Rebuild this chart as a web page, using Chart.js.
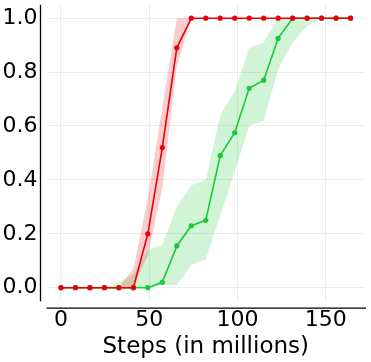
<!DOCTYPE html>
<html>
<head>
<meta charset="utf-8">
<script src="https://cdn.jsdelivr.net/npm/chart.js@4.4.1/dist/chart.umd.min.js"></script>
<style>
    html, body { margin: 0; padding: 0; background: #fff; }
    #wrap { width: 371px; height: 362px; position: relative; }
</style>
</head>
<body>
<div id="wrap"><canvas id="chart_steps"></canvas></div>
<script>
// Steps (in millions)
const steps = [0, 8.2, 16.4, 24.6, 32.8, 41, 49.2, 57.4, 65.6, 73.8, 82, 90.2, 98.4, 106.6, 114.8, 123, 131.2, 139.4, 147.6, 155.8, 164]

// red run
const redMean = [0, 0, 0, 0, 0, 0, 0.2, 0.52, 0.89, 1, 1, 1, 1, 1, 1, 1, 1, 1, 1, 1, 1]
const redUpper = [0, 0, 0, 0, 0, 0.07, 0.33, 0.67, 1, 1, 1, 1, 1, 1, 1, 1, 1, 1, 1, 1, 1]
const redLower = [0, 0, 0, 0, 0, 0, 0.12, 0.37, 0.82, 1, 1, 1, 1, 1, 1, 1, 1, 1, 1, 1, 1]

// green run
const greenMean = [0, 0, 0, 0, 0, 0, 0, 0.02, 0.155, 0.23, 0.25, 0.49, 0.575, 0.74, 0.77, 0.925, 1, 1, 1, 1, 1]
const greenUpper = [0, 0, 0, 0, 0.02, 0.05, 0.14, 0.16, 0.3, 0.38, 0.4, 0.64, 0.73, 0.89, 0.91, 1, 1, 1, 1, 1, 1]
const greenLower = [0, 0, 0, 0, 0, 0, 0, 0.01, 0.01, 0.085, 0.105, 0.27, 0.43, 0.6, 0.62, 0.81, 0.91, 0.97, 1, 1, 1]

const xTicks = [0, 50, 100, 150]
const yTicks = [0, 0.2, 0.4, 0.6, 0.8, 1.0]

const RED = 'rgb(232, 0, 11)'
const GREEN = 'rgb(26, 201, 56)'

const toPoints = (arr) => steps.map((s, i) => ({ x: s, y: arr[i] }))

const lineSet = (arr, color) => ({
    data: toPoints(arr),
    borderColor: color,
    backgroundColor: color,
    borderWidth: 1.6,
    pointRadius: 2.6,
    pointBorderWidth: 0,
    fill: false,
    tension: 0
})

const bandSet = (arr, fillTo, color) => ({
    data: toPoints(arr),
    borderWidth: 0,
    borderColor: 'rgba(0,0,0,0)',
    pointRadius: 0,
    backgroundColor: color,
    fill: fillTo,
    tension: 0
})

// offset axis lines (like seaborn despine)
const offsetAxes = {
    id: 'offsetAxes',
    afterDraw(chart) {
        const { ctx, chartArea } = chart
        ctx.save()
        ctx.strokeStyle = '#000'
        ctx.lineWidth = 1.3
        ctx.beginPath()
        ctx.moveTo(chartArea.left - 6, chartArea.top)
        ctx.lineTo(chartArea.left - 6, chartArea.bottom)
        ctx.moveTo(chartArea.left, chartArea.bottom + 7)
        ctx.lineTo(chartArea.right + 1, chartArea.bottom + 7)
        ctx.stroke()
        ctx.restore()
    }
}

new Chart(document.getElementById('chart_steps'), {
    type: 'line',
    data: {
        datasets: [
            lineSet(redMean, RED),
            lineSet(greenMean, GREEN),
            bandSet(redUpper, 3, 'rgba(232, 0, 11, 0.2)'),
            bandSet(redLower, false, 'rgba(0,0,0,0)'),
            bandSet(greenUpper, 5, 'rgba(26, 201, 56, 0.2)'),
            bandSet(greenLower, false, 'rgba(0,0,0,0)')
        ]
    },
    options: {
        responsive: true,
        maintainAspectRatio: false,
        animation: false,
        layout: {
            padding: { top: 4.7, right: 6, left: 0, bottom: 0 }
        },
        plugins: {
            legend: { display: false },
            tooltip: { enabled: false }
        },
        scales: {
            x: {
                type: 'linear',
                min: -8.2,
                max: 172.2,
                afterBuildTicks: (scale) => { scale.ticks = xTicks.map(v => ({ value: v })) },
                afterFit: (scale) => {
                    scale.height = 60.8
                    scale.paddingLeft = 0
                    scale.paddingRight = 0
                },
                grid: { color: '#ececec', lineWidth: 1, drawTicks: false },
                border: { display: false },
                ticks: {
                    padding: 6,
                    color: '#000',
                    font: { family: 'DejaVu Sans', size: 22 },
                    callback: (v) => String(v)
                },
                title: {
                    display: true,
                    text: 'Steps (in millions)',
                    color: '#000',
                    font: { family: 'DejaVu Sans', size: 23 },
                    padding: { top: 0, bottom: 1 }
                }
            },
            y: {
                type: 'linear',
                min: -0.05,
                max: 1.05,
                afterBuildTicks: (scale) => { scale.ticks = yTicks.map(v => ({ value: v })) },
                afterFit: (scale) => {
                    scale.width = 46.5
                    scale.paddingTop = 0
                    scale.paddingBottom = 0
                },
                grid: { color: '#ececec', lineWidth: 1, drawTicks: false },
                border: { display: false },
                ticks: {
                    padding: 9,
                    color: '#000',
                    font: { family: 'DejaVu Sans', size: 22 },
                    callback: (v) => v.toFixed(1)
                }
            }
        }
    },
    plugins: [offsetAxes]
});
</script>
</body>
</html>
